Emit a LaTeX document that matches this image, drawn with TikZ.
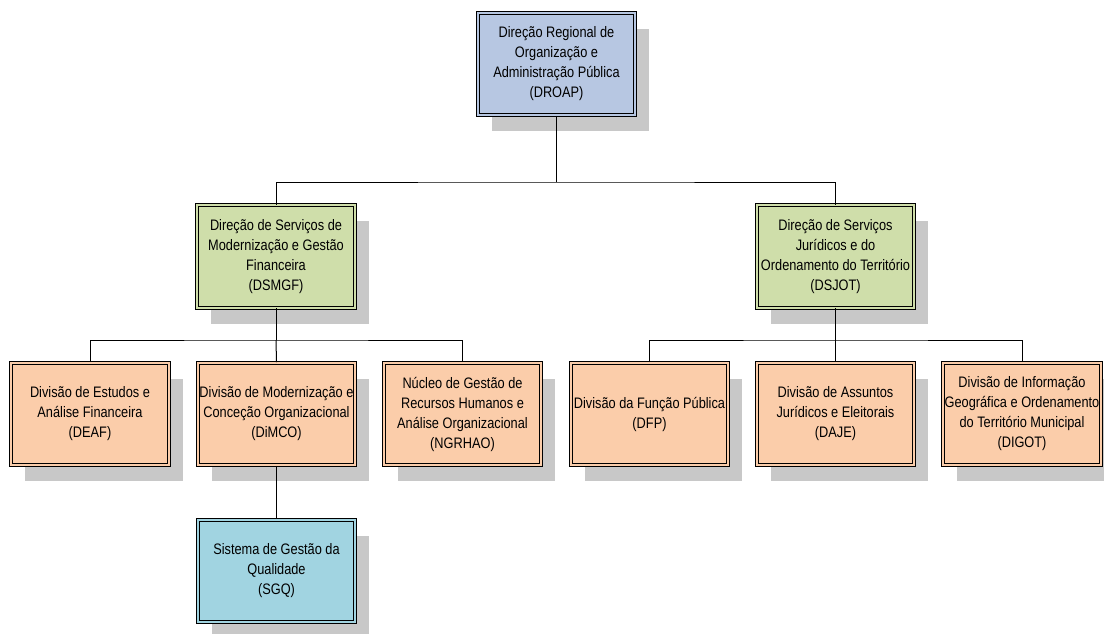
\documentclass[tikz,border=0pt]{standalone}
\usepackage{fontspec}
\setmainfont{Liberation Sans}[FakeStretch=0.84]
\usetikzlibrary{shadows}

\definecolor{droapblue}{RGB}{183,199,226}
\definecolor{dirgreen}{RGB}{207,222,170}
\definecolor{divpeach}{RGB}{251,205,170}
\definecolor{sgqteal}{RGB}{161,212,225}
\definecolor{shadowgray}{RGB}{200,200,200}

\tikzset{every picture/.style={line width=0.75pt}}
\tikzset{
	orgbox/.style={draw=black, fill=#1, double=#1, line width=0.65pt, double distance=1.5pt,
		minimum width=118pt, minimum height=77pt, inner sep=0pt, align=center,
		font=\fontsize{11.4}{15}\selectfont,
		general shadow={fill=shadowgray, shadow xshift=10.5pt, shadow yshift=-12pt}},
	orgline/.style={draw=black, line width=0.75pt}
}

\begin{document}
\begin{tikzpicture}[x=0.75pt,y=0.75pt,yscale=-1,xscale=1]
		\useasboundingbox (0,0) rectangle (1104,633);
		
		%Shape: Rectangle [id:droap] 
		\node [orgbox=droapblue] (droap) at (556.5,64) {Direção Regional de\\Organização e\\Administração Pública\\(DROAP)};
		%Shape: Rectangle [id:dsmgf] 
		\node [orgbox=dirgreen] (dsmgf) at (276,256.5) {Direção de Serviços de\\Modernização e Gestão\\Financeira\\(DSMGF)};
		%Shape: Rectangle [id:dsjot] 
		\node [orgbox=dirgreen] (dsjot) at (835.5,256.5) {Direção de Serviços\\Jurídicos e do\\Ordenamento do Território\\(DSJOT)};
		%Shape: Rectangle [id:deaf] 
		\node [orgbox=divpeach] (deaf) at (90,414) {Divisão de Estudos e\\Análise Financeira\\(DEAF)};
		%Shape: Rectangle [id:dimco] 
		\node [orgbox=divpeach] (dimco) at (276.5,414) {Divisão de Modernização e\\Conceção Organizacional\\(DiMCO)};
		%Shape: Rectangle [id:ngrhao] 
		\node [orgbox=divpeach] (ngrhao) at (462.5,414) {Núcleo de Gestão de\\Recursos Humanos e\\Análise Organizacional\\(NGRHAO)};
		%Shape: Rectangle [id:dfp] 
		\node [orgbox=divpeach] (dfp) at (649.5,414) {Divisão da Função Pública\\(DFP)};
		%Shape: Rectangle [id:daje] 
		\node [orgbox=divpeach] (daje) at (835.5,414) {Divisão de Assuntos\\Jurídicos e Eleitorais\\(DAJE)};
		%Shape: Rectangle [id:digot] 
		\node [orgbox=divpeach] (digot) at (1022,414) {Divisão de Informação\\Geográfica e Ordenamento\\do Território Municipal\\(DIGOT)};
		%Shape: Rectangle [id:sgq] 
		\node [orgbox=sgqteal] (sgq) at (276.5,571) {Sistema de Gestão da\\Qualidade\\(SGQ)};
		
		% bus points
		\coordinate (busa) at (556.5,182);
		\coordinate (busb) at (276,340);
		\coordinate (busc) at (835.5,340);
		
		%Straight Lines [id:top] 
		\draw [orgline] (droap.south) -- (busa);
		\draw [orgline] (dsmgf.north) |- (busa) -| (dsjot.north);
		%Straight Lines [id:left] 
		\draw [orgline] (dsmgf.south) -- (busb);
		\draw [orgline] (deaf.north) |- (busb) -| (ngrhao.north);
		\draw [orgline] (busb) -- (dimco.north);
		%Straight Lines [id:right] 
		\draw [orgline] (dsjot.south) -- (busc);
		\draw [orgline] (dfp.north) |- (busc) -| (digot.north);
		\draw [orgline] (busc) -- (daje.north);
		%Straight Lines [id:sgq] 
		\draw [orgline] (dimco.south) -- (sgq.north);
	\end{tikzpicture}
\end{document}
